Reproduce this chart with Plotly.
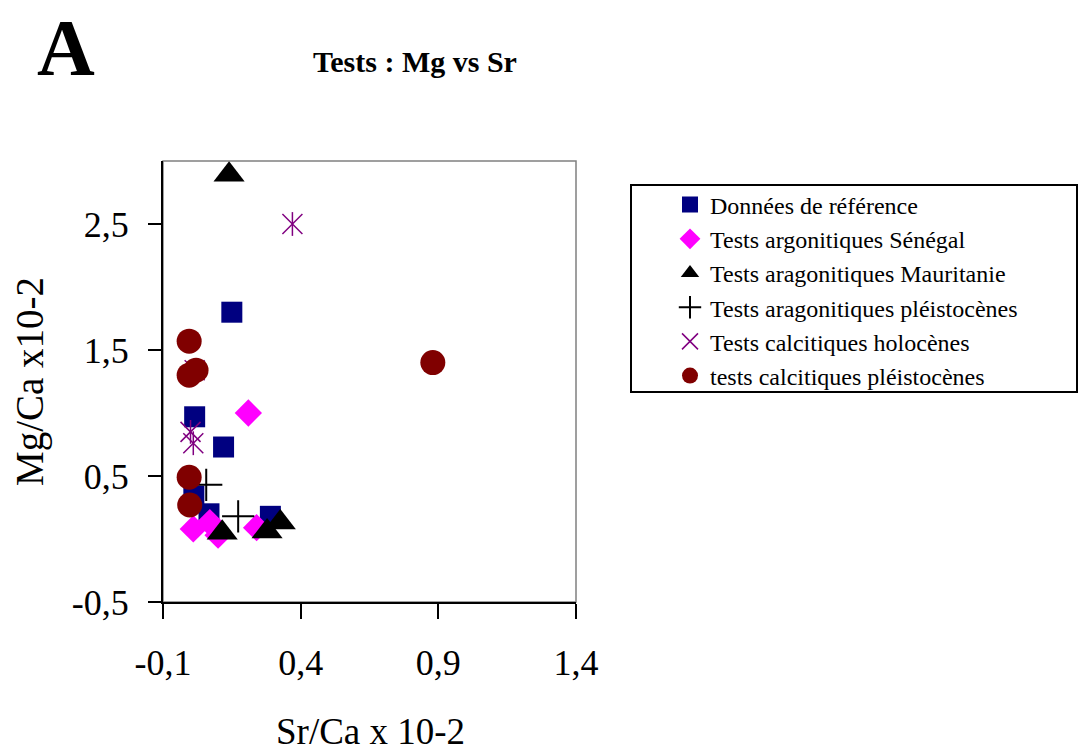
import plotly.graph_objects as go

# ---------------- data ----------------
ref_x = [0.15, 0.015, 0.12, 0.012, 0.067, 0.29]
ref_y = [1.80, 0.97, 0.73, 0.34, 0.20, 0.18]

sen_x = [0.21, 0.01, 0.07, 0.24, 0.10]
sen_y = [1.00, 0.08, 0.13, 0.09, 0.03]

mau_x = [0.14, 0.115, 0.278, 0.326]
mau_y = [2.89, 0.05, 0.06, 0.13]

arp_x = [0.057, 0.173]
arp_y = [0.43, 0.18]

hol_x = [0.37, 0.00, 0.01, 0.015]
hol_y = [2.50, 0.85, 0.76, 1.34]

plc_x = [-0.005, -0.005, 0.02, -0.005, -0.003, 0.88]
plc_y = [1.57, 1.30, 1.34, 0.49, 0.27, 1.40]

series_names = [
    "Données de référence",
    "Tests argonitiques Sénégal",
    "Tests aragonitiques Mauritanie",
    "Tests aragonitiques pléistocènes",
    "Tests calcitiques holocènes",
    "tests calcitiques pléistocènes",
]

x_tickvals = [-0.1, 0.4, 0.9, 1.4]
x_ticktext = ["-0,1", "0,4", "0,9", "1,4"]
y_tickvals = [-0.5, 0.5, 1.5, 2.5]
y_ticktext = ["-0,5", "0,5", "1,5", "2,5"]

FONT = "Liberation Serif, Times New Roman, serif"

# page has an 8px body margin: build the figure 8px smaller / shifted
OFF = 8
FIG_W, FIG_H = 1088 - OFF, 749 - OFF
L, R, T, B = 163 - OFF, 576 - OFF, 161 - OFF, 602 - OFF
W = R - L
H = B - T


def px(xpage):
    return (xpage - OFF - L) / W


def py(ypage):
    return (B - (ypage - OFF)) / H


fig = go.Figure()

fig.add_trace(go.Scatter(x=ref_x, y=ref_y, mode="markers", name=series_names[0],
                         marker=dict(symbol="square", size=21, color="#000080",
                                     line=dict(width=0))))
fig.add_trace(go.Scatter(x=sen_x, y=sen_y, mode="markers", name=series_names[1],
                         marker=dict(symbol="diamond", size=21, color="#FF00FF",
                                     line=dict(width=0))))
fig.add_trace(go.Scatter(x=mau_x, y=mau_y, mode="markers", name=series_names[2],
                         marker=dict(symbol="triangle-up", size=27, color="#000000",
                                     line=dict(width=0))))
fig.add_trace(go.Scatter(x=arp_x, y=arp_y, mode="markers", name=series_names[3],
                         marker=dict(symbol="cross-thin-open", size=23, color="#000000",
                                     line=dict(width=2, color="#000000"))))
fig.add_trace(go.Scatter(x=hol_x, y=hol_y, mode="markers", name=series_names[4],
                         legendgroup="hol",
                         marker=dict(symbol="x-thin-open", size=20, color="#800080",
                                     line=dict(width=1.5, color="#800080"))))
fig.add_trace(go.Scatter(x=hol_x, y=hol_y, mode="markers", name=series_names[4],
                         legendgroup="hol", showlegend=False,
                         marker=dict(symbol="line-ns-open", size=17, color="#800080",
                                     line=dict(width=1.5, color="#800080"))))
fig.add_trace(go.Scatter(x=plc_x, y=plc_y, mode="markers", name=series_names[5],
                         marker=dict(symbol="circle", size=25, color="#800000",
                                     line=dict(width=0))))

# plot-area frame (grey top/right border like Excel)
fig.add_shape(type="rect", xref="x domain", yref="y domain", x0=0, x1=1, y0=0, y1=1,
              line=dict(color="#808080", width=1.5), layer="below")
# legend frame
fig.add_shape(type="rect", xref="paper", yref="paper",
              x0=px(631), x1=px(1077), y0=py(392), y1=py(185),
              line=dict(color="#000000", width=2), fillcolor="rgba(0,0,0,0)")

fig.update_layout(
    width=FIG_W, height=FIG_H,
    margin=dict(l=L, r=FIG_W - R, t=T, b=FIG_H - B, autoexpand=False),
    paper_bgcolor="white", plot_bgcolor="white",
    font=dict(family=FONT, color="black"),
    showlegend=True,
    legend=dict(x=px(670), xanchor="left", y=py(290.5), yanchor="middle",
                font=dict(family=FONT, size=24, color="black"),
                bgcolor="rgba(0,0,0,0)", borderwidth=0, itemwidth=30,
                tracegroupgap=0),
    xaxis=dict(range=[-0.1, 1.4], tickvals=x_tickvals, ticktext=x_ticktext,
               showgrid=False, zeroline=False, showline=True, linecolor="black",
               linewidth=2, ticks="outside", ticklen=15, tickwidth=2, tickcolor="black",
               tickfont=dict(family=FONT, size=36, color="black"),
               ticklabelstandoff=13),
    yaxis=dict(range=[-0.5, 3.0], tickvals=y_tickvals, ticktext=y_ticktext,
               showgrid=False, zeroline=False, showline=True, linecolor="black",
               linewidth=2, ticks="outside", ticklen=13, tickwidth=2, tickcolor="black",
               tickfont=dict(family=FONT, size=36, color="black"),
               ticklabelstandoff=12),
    annotations=[
        dict(text="<b>A</b>", xref="paper", yref="paper", x=px(66), y=py(48),
             xanchor="center", yanchor="middle", showarrow=False,
             font=dict(family=FONT, size=80, color="black")),
        dict(text="<b>Tests : Mg vs Sr</b>", xref="paper", yref="paper",
             x=px(414.5), y=py(62), xanchor="center", yanchor="middle", showarrow=False,
             font=dict(family=FONT, size=30, color="black")),
        dict(text="Mg/Ca x10-2", xref="paper", yref="paper", x=px(30), y=py(382),
             xanchor="center", yanchor="middle", textangle=-90, showarrow=False,
             font=dict(family=FONT, size=39, color="black")),
        dict(text="Sr/Ca x 10-2", xref="paper", yref="paper", x=px(370), y=py(731),
             xanchor="center", yanchor="middle", showarrow=False,
             font=dict(family=FONT, size=37, color="black")),
    ],
)

fig.write_html("out.html")
